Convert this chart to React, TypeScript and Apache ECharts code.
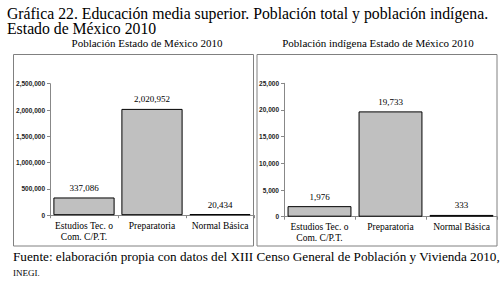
import React, { useEffect, useRef } from "react";
import * as echarts from "echarts";

const categories = ["Estudios Tec. o\nCom. C/P.T.", "Preparatoria", "Normal Básica"];
const totalValues = [337086, 2020952, 20434];
const indigenaValues = [1976, 19733, 333];
const totalTicks = { min: 0, max: 2500000, interval: 500000 };
const indigenaTicks = { min: 0, max: 25000, interval: 5000 };

const SERIF = "Liberation Serif";
const SANS = "Liberation Sans";

const fmt = (v: number) => Number(v).toLocaleString("en-US");

export default function App() {
  const ref = useRef<HTMLDivElement>(null);
  useEffect(() => {
    if (!ref.current) return;
    const chart = echarts.init(ref.current, null, { renderer: "svg" });
    const axisLine = { show: true, lineStyle: { color: "#888", width: 1 } };
    const mkX = (gi: number) => ({
      type: "category" as const,
      gridIndex: gi,
      data: categories,
      axisLine,
      axisTick: { show: true, length: 3, lineStyle: { color: "#888" } },
      axisLabel: {
        fontFamily: SERIF,
        fontSize: 9.5,
        lineHeight: 11,
        color: "#000",
        margin: 5,
        interval: 0,
      },
    });
    const mkY = (gi: number, t: { min: number; max: number; interval: number }) => ({
      type: "value" as const,
      gridIndex: gi,
      min: t.min,
      max: t.max,
      interval: t.interval,
      splitLine: { show: false },
      axisLine,
      axisTick: { show: true, length: 3, lineStyle: { color: "#888" } },
      axisLabel: {
        fontFamily: SANS,
        fontSize: 6.5,
        fontWeight: "bold" as const,
        color: "#222",
        margin: 5,
        formatter: (v: number) => fmt(v),
      },
    });
    const mkSeries = (gi: number, data: number[]) => ({
      type: "bar" as const,
      xAxisIndex: gi,
      yAxisIndex: gi,
      data,
      barCategoryGap: "10%",
      itemStyle: { color: "#c0c0c0", borderColor: "#000", borderWidth: 1 },
      label: {
        show: true,
        position: "top" as const,
        distance: 5,
        fontFamily: SERIF,
        fontSize: 9,
        color: "#000",
        formatter: (p: any) => fmt(p.value),
      },
    });
    const txt = (size: number) => ({ fontFamily: SERIF, fontSize: size, fill: "#000" });
    chart.setOption({
      animation: false,
      grid: [
        { left: 50, right: 250, top: 83.7, bottom: 65.8 },
        { left: 284, right: 7, top: 83.3, bottom: 64.3 },
      ],
      xAxis: [mkX(0), mkX(1)],
      yAxis: [mkY(0, totalTicks), mkY(1, indigenaTicks)],
      series: [mkSeries(0, totalValues), mkSeries(1, indigenaValues)],
      graphic: [
        {
          type: "text",
          x: 7,
          y: 13,
          style: {
            ...txt(15.75),
            text: "Gráfica 22. Educación media superior. Población total y población indígena.",
            verticalAlign: "middle",
          },
        },
        {
          type: "text",
          x: 7,
          y: 28.5,
          style: { ...txt(15.75), text: "Estado de México 2010", verticalAlign: "middle" },
        },
        {
          type: "text",
          x: 147,
          y: 43,
          style: {
            ...txt(11),
            text: "Población Estado de México 2010",
            align: "center",
            verticalAlign: "middle",
          },
        },
        {
          type: "text",
          x: 378,
          y: 43,
          style: {
            ...txt(11),
            text: "Población indígena Estado de México 2010",
            align: "center",
            verticalAlign: "middle",
          },
        },
        {
          type: "rect",
          shape: { x: 13.5, y: 54.5, width: 240, height: 191.5 },
          style: { fill: "none", stroke: "#808080", lineWidth: 1 },
          silent: true,
        },
        {
          type: "rect",
          shape: { x: 257, y: 54.5, width: 240, height: 191.5 },
          style: { fill: "none", stroke: "#808080", lineWidth: 1 },
          silent: true,
        },
        {
          type: "text",
          x: 13,
          y: 256.7,
          style: {
            ...txt(13.2),
            text: "Fuente: elaboración propia con datos del XIII Censo General de Población y Vivienda 2010,",
            verticalAlign: "middle",
          },
        },
        {
          type: "text",
          x: 13,
          y: 273,
          style: { ...txt(9), text: "INEGI.", verticalAlign: "middle" },
        },
      ],
    });
    return () => chart.dispose();
  }, []);
  return (
    <div
      ref={ref}
      style={{ position: "absolute", left: 0, top: 0, width: 504, height: 281, background: "#fff" }}
    />
  );
}
